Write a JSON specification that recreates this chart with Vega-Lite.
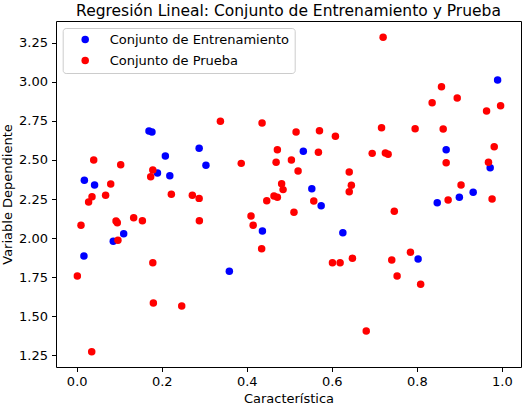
{
  "$schema": "https://vega.github.io/schema/vega-lite/v6.json",
  "width": 465,
  "height": 346,
  "autosize": {"type": "none"},
  "padding": {"left": 56, "top": 21, "right": 6, "bottom": 44},
  "title": {
    "text": "Regresión Lineal: Conjunto de Entrenamiento y Prueba",
    "fontSize": 15.5,
    "fontWeight": "normal",
    "font": "DejaVu Sans",
    "color": "#000",
    "offset": 2
  },
  "data": {
    "values": [
      {"x": 0.018, "y": 2.370, "conjunto": "Conjunto de Entrenamiento"},
      {"x": 0.042, "y": 2.339, "conjunto": "Conjunto de Entrenamiento"},
      {"x": 0.170, "y": 2.685, "conjunto": "Conjunto de Entrenamiento"},
      {"x": 0.177, "y": 2.679, "conjunto": "Conjunto de Entrenamiento"},
      {"x": 0.2085, "y": 2.525, "conjunto": "Conjunto de Entrenamiento"},
      {"x": 0.190, "y": 2.416, "conjunto": "Conjunto de Entrenamiento"},
      {"x": 0.219, "y": 2.399, "conjunto": "Conjunto de Entrenamiento"},
      {"x": 0.288, "y": 2.574, "conjunto": "Conjunto de Entrenamiento"},
      {"x": 0.304, "y": 2.466, "conjunto": "Conjunto de Entrenamiento"},
      {"x": 0.990, "y": 3.011, "conjunto": "Conjunto de Entrenamiento"},
      {"x": 0.533, "y": 2.555, "conjunto": "Conjunto de Entrenamiento"},
      {"x": 0.869, "y": 2.565, "conjunto": "Conjunto de Entrenamiento"},
      {"x": 0.9725, "y": 2.450, "conjunto": "Conjunto de Entrenamiento"},
      {"x": 0.553, "y": 2.316, "conjunto": "Conjunto de Entrenamiento"},
      {"x": 0.9325, "y": 2.293, "conjunto": "Conjunto de Entrenamiento"},
      {"x": 0.900, "y": 2.261, "conjunto": "Conjunto de Entrenamiento"},
      {"x": 0.848, "y": 2.226, "conjunto": "Conjunto de Entrenamiento"},
      {"x": 0.575, "y": 2.207, "conjunto": "Conjunto de Entrenamiento"},
      {"x": 0.4368, "y": 2.045, "conjunto": "Conjunto de Entrenamiento"},
      {"x": 0.626, "y": 2.034, "conjunto": "Conjunto de Entrenamiento"},
      {"x": 0.803, "y": 1.866, "conjunto": "Conjunto de Entrenamiento"},
      {"x": 0.017, "y": 1.885, "conjunto": "Conjunto de Entrenamiento"},
      {"x": 0.086, "y": 1.979, "conjunto": "Conjunto de Entrenamiento"},
      {"x": 0.1105, "y": 2.028, "conjunto": "Conjunto de Entrenamiento"},
      {"x": 0.359, "y": 1.787, "conjunto": "Conjunto de Entrenamiento"},
      {"x": 0.040, "y": 2.500, "conjunto": "Conjunto de Prueba"},
      {"x": 0.028, "y": 2.231, "conjunto": "Conjunto de Prueba"},
      {"x": 0.036, "y": 2.265, "conjunto": "Conjunto de Prueba"},
      {"x": 0.068, "y": 2.274, "conjunto": "Conjunto de Prueba"},
      {"x": 0.080, "y": 2.346, "conjunto": "Conjunto de Prueba"},
      {"x": 0.1035, "y": 2.469, "conjunto": "Conjunto de Prueba"},
      {"x": 0.179, "y": 2.435, "conjunto": "Conjunto de Prueba"},
      {"x": 0.174, "y": 2.393, "conjunto": "Conjunto de Prueba"},
      {"x": 0.2226, "y": 2.280, "conjunto": "Conjunto de Prueba"},
      {"x": 0.272, "y": 2.274, "conjunto": "Conjunto de Prueba"},
      {"x": 0.288, "y": 2.254, "conjunto": "Conjunto de Prueba"},
      {"x": 0.338, "y": 2.747, "conjunto": "Conjunto de Prueba"},
      {"x": 0.387, "y": 2.478, "conjunto": "Conjunto de Prueba"},
      {"x": 0.436, "y": 2.736, "conjunto": "Conjunto de Prueba"},
      {"x": 0.447, "y": 2.239, "conjunto": "Conjunto de Prueba"},
      {"x": 0.7207, "y": 3.285, "conjunto": "Conjunto de Prueba"},
      {"x": 0.858, "y": 2.968, "conjunto": "Conjunto de Prueba"},
      {"x": 0.895, "y": 2.896, "conjunto": "Conjunto de Prueba"},
      {"x": 0.836, "y": 2.866, "conjunto": "Conjunto de Prueba"},
      {"x": 0.997, "y": 2.847, "conjunto": "Conjunto de Prueba"},
      {"x": 0.964, "y": 2.813, "conjunto": "Conjunto de Prueba"},
      {"x": 0.516, "y": 2.679, "conjunto": "Conjunto de Prueba"},
      {"x": 0.571, "y": 2.687, "conjunto": "Conjunto de Prueba"},
      {"x": 0.6085, "y": 2.651, "conjunto": "Conjunto de Prueba"},
      {"x": 0.717, "y": 2.706, "conjunto": "Conjunto de Prueba"},
      {"x": 0.796, "y": 2.700, "conjunto": "Conjunto de Prueba"},
      {"x": 0.862, "y": 2.698, "conjunto": "Conjunto de Prueba"},
      {"x": 0.472, "y": 2.565, "conjunto": "Conjunto de Prueba"},
      {"x": 0.5685, "y": 2.549, "conjunto": "Conjunto de Prueba"},
      {"x": 0.695, "y": 2.542, "conjunto": "Conjunto de Prueba"},
      {"x": 0.726, "y": 2.544, "conjunto": "Conjunto de Prueba"},
      {"x": 0.7325, "y": 2.536, "conjunto": "Conjunto de Prueba"},
      {"x": 0.982, "y": 2.585, "conjunto": "Conjunto de Prueba"},
      {"x": 0.469, "y": 2.485, "conjunto": "Conjunto de Prueba"},
      {"x": 0.505, "y": 2.500, "conjunto": "Conjunto de Prueba"},
      {"x": 0.869, "y": 2.482, "conjunto": "Conjunto de Prueba"},
      {"x": 0.9685, "y": 2.485, "conjunto": "Conjunto de Prueba"},
      {"x": 0.5207, "y": 2.429, "conjunto": "Conjunto de Prueba"},
      {"x": 0.641, "y": 2.423, "conjunto": "Conjunto de Prueba"},
      {"x": 0.482, "y": 2.348, "conjunto": "Conjunto de Prueba"},
      {"x": 0.4854, "y": 2.310, "conjunto": "Conjunto de Prueba"},
      {"x": 0.646, "y": 2.338, "conjunto": "Conjunto de Prueba"},
      {"x": 0.641, "y": 2.297, "conjunto": "Conjunto de Prueba"},
      {"x": 0.904, "y": 2.340, "conjunto": "Conjunto de Prueba"},
      {"x": 0.8736, "y": 2.244, "conjunto": "Conjunto de Prueba"},
      {"x": 0.977, "y": 2.250, "conjunto": "Conjunto de Prueba"},
      {"x": 0.464, "y": 2.269, "conjunto": "Conjunto de Prueba"},
      {"x": 0.472, "y": 2.261, "conjunto": "Conjunto de Prueba"},
      {"x": 0.5576, "y": 2.237, "conjunto": "Conjunto de Prueba"},
      {"x": 0.511, "y": 2.165, "conjunto": "Conjunto de Prueba"},
      {"x": 0.747, "y": 2.171, "conjunto": "Conjunto de Prueba"},
      {"x": 0.435, "y": 1.932, "conjunto": "Conjunto de Prueba"},
      {"x": 0.6015, "y": 1.842, "conjunto": "Conjunto de Prueba"},
      {"x": 0.6195, "y": 1.842, "conjunto": "Conjunto de Prueba"},
      {"x": 0.6485, "y": 1.871, "conjunto": "Conjunto de Prueba"},
      {"x": 0.741, "y": 1.860, "conjunto": "Conjunto de Prueba"},
      {"x": 0.785, "y": 1.909, "conjunto": "Conjunto de Prueba"},
      {"x": 0.7536, "y": 1.757, "conjunto": "Conjunto de Prueba"},
      {"x": 0.809, "y": 1.704, "conjunto": "Conjunto de Prueba"},
      {"x": 0.681, "y": 1.405, "conjunto": "Conjunto de Prueba"},
      {"x": 0.0101, "y": 2.082, "conjunto": "Conjunto de Prueba"},
      {"x": 0.0925, "y": 2.109, "conjunto": "Conjunto de Prueba"},
      {"x": 0.0955, "y": 2.098, "conjunto": "Conjunto de Prueba"},
      {"x": 0.134, "y": 2.130, "conjunto": "Conjunto de Prueba"},
      {"x": 0.1545, "y": 2.111, "conjunto": "Conjunto de Prueba"},
      {"x": 0.2885, "y": 2.111, "conjunto": "Conjunto de Prueba"},
      {"x": 0.097, "y": 1.986, "conjunto": "Conjunto de Prueba"},
      {"x": 0.0015, "y": 1.757, "conjunto": "Conjunto de Prueba"},
      {"x": 0.179, "y": 1.842, "conjunto": "Conjunto de Prueba"},
      {"x": 0.1803, "y": 1.585, "conjunto": "Conjunto de Prueba"},
      {"x": 0.247, "y": 1.565, "conjunto": "Conjunto de Prueba"},
      {"x": 0.0353, "y": 1.273, "conjunto": "Conjunto de Prueba"},
      {"x": 0.410, "y": 2.141, "conjunto": "Conjunto de Prueba"},
      {"x": 0.415, "y": 2.082, "conjunto": "Conjunto de Prueba"}
    ]
  },
  "mark": {"type": "point", "filled": true, "opacity": 1, "size": 56, "shape": "circle"},
  "encoding": {
    "x": {
      "field": "x",
      "type": "quantitative",
      "title": "Característica",
      "scale": {"domain": [-0.0487, 1.045], "nice": false, "zero": false},
      "axis": {"values": [0, 0.2, 0.4, 0.6, 0.8, 1.0], "format": ".1f", "grid": false, "titlePadding": 4}
    },
    "y": {
      "field": "y",
      "type": "quantitative",
      "title": "Variable Dependiente",
      "scale": {"domain": [1.175, 3.389], "nice": false, "zero": false},
      "axis": {"values": [1.25, 1.5, 1.75, 2.0, 2.25, 2.5, 2.75, 3.0, 3.25], "format": ".2f", "grid": false, "titlePadding": 4}
    },
    "color": {
      "field": "conjunto",
      "type": "nominal",
      "scale": {"domain": ["Conjunto de Entrenamiento", "Conjunto de Prueba"], "range": ["#0000ff", "#ff0000"]},
      "legend": {
        "title": null,
        "orient": "none",
        "legendX": 6.7,
        "legendY": 7,
        "fillColor": "rgba(255,255,255,0.8)",
        "strokeColor": "#cccccc",
        "cornerRadius": 3,
        "padding": 5,
        "symbolOffset": 11,
        "symbolSize": 56,
        "symbolType": "circle",
        "symbolStrokeWidth": 0,
        "labelOffset": 18,
        "labelLimit": 0,
        "rowPadding": 7,
        "labelFontSize": 13,
        "labelFont": "DejaVu Sans",
        "labelColor": "#000"
      }
    }
  },
  "config": {
    "view": {"stroke": "#000", "strokeWidth": 1},
    "axis": {
      "domain": false,
      "labelFont": "DejaVu Sans",
      "labelFontSize": 13,
      "labelColor": "#000",
      "titleFont": "DejaVu Sans",
      "titleFontSize": 13,
      "titleFontWeight": "normal",
      "titleColor": "#000",
      "tickColor": "#000",
      "tickSize": 4.5,
      "labelPadding": 4
    }
  }
}
